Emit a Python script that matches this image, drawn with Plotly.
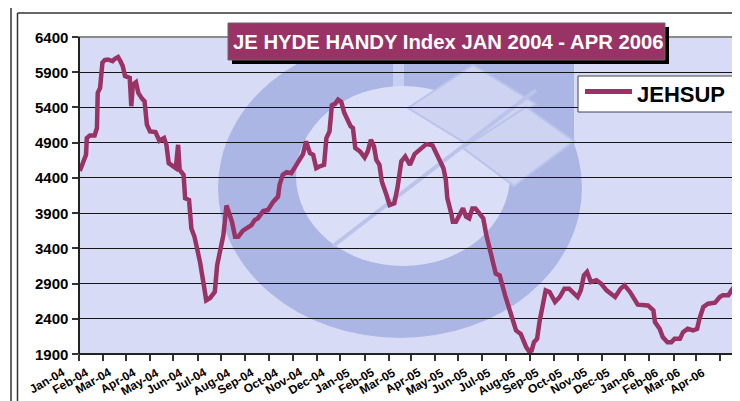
import plotly.graph_objects as go
import pandas as pd

# ---------------- data ----------------
chart_title = "JE HYDE HANDY Index JAN 2004 - APR 2006"
series_name = "JEHSUP"
start_date = "2004-01-01"
end_date = "2006-04-24 10:00"

day_offsets = [1, 4, 9, 10, 14, 20, 23, 24, 27, 30,
               33, 37, 43, 46, 50, 53, 56, 59, 65, 67,
               69, 73, 76, 81, 84, 87, 91, 98, 103, 109,
               112, 115, 120, 124, 127, 129, 134, 136, 141, 144,
               148, 155, 160, 163, 168, 174, 177, 180, 185, 189,
               193, 196, 200, 204, 210, 221, 225, 229, 236, 242,
               249, 255, 257, 261, 266, 272, 276, 283, 287, 291,
               296, 300, 304, 308, 314, 317, 321, 324, 328, 332,
               336, 340, 344, 348, 351, 354, 360, 366, 370, 374,
               378, 381, 385, 388, 394, 398, 404, 408, 413, 418,
               424, 430, 439, 445, 453, 458, 463, 467, 470, 472,
               477, 479, 483, 488, 492, 496, 500, 504, 508, 513,
               518, 522, 525, 528, 531, 534, 539, 542, 546, 550,
               554, 557, 560, 566, 569, 573, 577, 580, 583, 587,
               590, 594, 598, 603, 610, 616, 622, 628, 633, 639,
               643, 647, 651, 656, 663, 669, 676, 682, 687, 694,
               699, 706, 712, 716, 729, 736, 738, 744, 748, 754,
               759, 763, 770, 774, 780, 787, 792, 795, 800, 806,
               815, 821, 825, 832, 836, 843]

index_values = [4500, 4585, 4727, 4965, 5003, 5003, 5108, 5606, 5678, 6034,
                6072, 6081, 6058, 6091, 6115, 6058, 5987, 5844, 5820, 5417,
                5725, 5759, 5606, 5521, 5488, 5155, 5060, 5050, 4927, 4965,
                4870, 4609, 4562, 4538, 4870, 4514, 4442, 4110, 4086, 3682,
                3564, 3208, 2875, 2661, 2695, 2781, 3160, 3302, 3587, 4010,
                3872, 3778, 3564, 3564, 3650, 3730, 3801, 3825, 3929, 3944,
                4063, 4134, 4300, 4442, 4481, 4466, 4538, 4656, 4737, 4918,
                4751, 4727, 4538, 4562, 4585, 4965, 5060, 5431, 5450, 5511,
                5478, 5321, 5226, 5132, 5108, 4823, 4776, 4690, 4776, 4941,
                4847, 4656, 4585, 4348, 4157, 4015, 4039, 4253, 4633, 4704,
                4585, 4737, 4822, 4880, 4861, 4751, 4656, 4538, 4371, 4110,
                3896, 3778, 3778, 3872, 3967, 3849, 3825, 3967, 3967, 3896,
                3825, 3587, 3445, 3302, 3208, 3041, 3017, 2875, 2733, 2590,
                2448, 2353, 2234, 2186, 2091, 1997, 1934, 1948, 2068, 2115,
                2353, 2567, 2804, 2781, 2638, 2709, 2828, 2828, 2781, 2709,
                2804, 3017, 3066, 2923, 2947, 2899, 2804, 2757, 2709, 2828,
                2875, 2781, 2686, 2600, 2590, 2519, 2353, 2258, 2139, 2068,
                2068, 2115, 2115, 2210, 2258, 2234, 2258, 2400, 2567, 2614,
                2628, 2709, 2733, 2733, 2804, 2899]

y_ticks = [1900, 2400, 2900, 3400, 3900, 4400, 4900, 5400, 5900, 6400]
month_ticks = pd.date_range("2004-01-01", "2006-04-01", freq="MS")
month_labels = [d.strftime("%b-%y") for d in month_ticks]

dates = pd.Timestamp(start_date) + pd.to_timedelta(day_offsets, unit="D")

# ---------------- layout geometry / style ----------------
W, H = 740, 401
L, R, T, B = 71, 10, 29, 55
PW, PH = W - L - R, H - T - B
FONT = "Liberation Sans, Arial, sans-serif"
PLUM = "#993366"
RING = "#ABB6E4"


def px(x):
    return (x - L) / PW


def py(y):
    return (H - B - y) / PH


def rect(x0, y0, x1, y1, fill=None, line=None, lw=0, layer="below"):
    return dict(type="rect", xref="paper", yref="paper",
                x0=px(x0), x1=px(x1), y0=py(y1), y1=py(y0),
                fillcolor=fill if fill else "rgba(0,0,0,0)",
                line=dict(color=line if line else "rgba(0,0,0,0)", width=lw),
                layer=layer)


def ellipse(x0, y0, x1, y1, fill):
    return dict(type="circle", xref="paper", yref="paper",
                x0=px(x0), x1=px(x1), y0=py(y1), y1=py(y0),
                fillcolor=fill, line=dict(width=0), layer="below")


def poly(pts, fill, line, lw):
    d = "M " + " L ".join(f"{px(a):.4f} {py(b):.4f}" for a, b in pts) + " Z"
    return dict(type="path", xref="paper", yref="paper", path=d,
                fillcolor=fill, line=dict(color=line, width=lw), layer="below")


def seg(x0, y0, x1, y1, color, width, layer="below"):
    return dict(type="line", xref="paper", yref="paper",
                x0=px(x0), x1=px(x1), y0=py(y0), y1=py(y1),
                line=dict(color=color, width=width), layer=layer)


shapes = [
    # plot background
    rect(71, 29, 730, 346, fill="#D7DBF5"),
    # watermark
    ellipse(210, 29.5, 574, 330, RING),
    rect(392, 29.5, 566, 193, fill=RING),
    rect(385, 29.5, 396, 108, fill="#C8CFF0"),
    ellipse(288, 78, 502, 258, "#DADEF6"),
    poly([(400, 100), (465, 57), (528, 96), (462, 138)], "#CDD3F1", "#BAC3EA", 2),
    poly([(455, 140), (518, 99), (566, 133), (506, 178)], "#CDD3F1", "#BAC3EA", 2),
    seg(325, 238, 528, 82, "#BAC3EA", 4),
    # plot border
    rect(71, 29, 730, 346, line="#8C8C8C", lw=2, layer="above"),
    seg(71, 29, 71, 346, "#222222", 2, "above"),
    seg(71, 346, 730, 346, "#222222", 2, "above"),
    # title box + shadow
    rect(224, 19, 661, 56, fill="#000000", layer="above"),
    rect(220, 15, 657, 52, fill=PLUM, line="#666666", lw=1, layer="above"),
    # legend box
    rect(570, 68, 729, 104, fill="#FFFFFF", line="#444444", lw=1, layer="above"),
    seg(577, 83.5, 624, 83.5, PLUM, 5, "above"),
    # outer frame
    seg(3, 0, 3, 401, "#333333", 1.5, "above"),
    seg(9.5, 5, 9.5, 401, "#333333", 1.5, "above"),
    seg(9.5, 5, 737, 5, "#333333", 1.5, "above"),
    seg(737, 5, 737, 401, "#333333", 1.5, "above"),
]

annotations = [
    dict(text=chart_title, xref="paper", yref="paper", x=px(440), y=py(33.5),
         xanchor="center", yanchor="middle", showarrow=False,
         font=dict(family=FONT, size=20.3, color="white", weight="bold")),
    dict(text=series_name, xref="paper", yref="paper", x=px(627), y=py(86),
         xanchor="left", yanchor="middle", showarrow=False,
         font=dict(family=FONT, size=22, color="black", weight="bold")),
]

# rotated month labels under the x axis
for d, lab in zip(month_ticks, month_labels):
    annotations.append(dict(
        text=lab, x=d, xref="x", y=0, yref="paper",
        xanchor="right", yanchor="top", xshift=-11, yshift=-10,
        textangle=-30, showarrow=False, borderpad=0,
        font=dict(family=FONT, size=12, color="black", weight="bold")))

# value labels left of the y axis
for v in y_ticks:
    annotations.append(dict(
        text=str(v), x=0, xref="paper", y=v, yref="y",
        xanchor="right", yanchor="middle", xshift=-10,
        showarrow=False, borderpad=0,
        font=dict(family=FONT, size=15, color="black", weight="bold")))

fig = go.Figure()
fig.add_trace(go.Scatter(x=dates, y=index_values, mode="lines", name=series_name,
                         line=dict(color=PLUM, width=4.5), showlegend=False))

fig.update_layout(
    width=W, height=H,
    margin=dict(l=L, r=R, t=T, b=B, pad=0),
    paper_bgcolor="white", plot_bgcolor="rgba(0,0,0,0)",
    shapes=shapes, annotations=annotations, showlegend=False,
)

fig.update_xaxes(
    type="date", range=[start_date, end_date],
    tickvals=month_ticks, showticklabels=False,
    ticks="outside", ticklen=6, tickwidth=1.5, tickcolor="#333333",
    showgrid=False, showline=False, zeroline=False,
)
fig.update_yaxes(
    range=[1900, 6400], tickvals=y_ticks, showticklabels=False,
    ticks="outside", ticklen=6, tickwidth=1.5, tickcolor="#333333",
    showgrid=True, gridcolor="#151515", gridwidth=1,
    showline=False, zeroline=False,
)

fig.write_html("out.html")
